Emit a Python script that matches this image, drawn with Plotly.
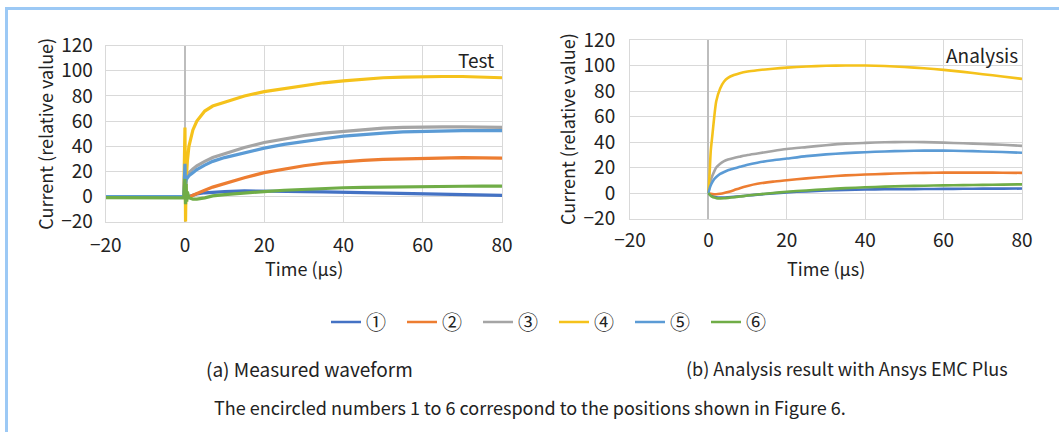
import plotly.graph_objects as go

# ---- measured waveform (Test) ----
t_test = [-20, -10, -0.3, 0, 0.15, 0.3, 0.45, 0.6, 1, 2, 3, 5, 7, 10, 15, 20, 25, 30,
          35, 40, 45, 50, 55, 60, 65, 70, 75, 80]
test_1 = [0, 0, 0, 2, -1, 0, 0, 0, 0, 1, 2, 3, 3.5, 4, 4.5, 4.5, 4.2, 4, 3.7, 3.4, 3,
          2.7, 2.4, 2, 1.7, 1.4, 1.1, 1]
test_2 = [0, 0, 0, 3, -2, 0, 0, 0, -0.5, 1, 2.5, 5, 7.5, 10.5, 15, 19, 22, 24.5, 26.5,
          27.8, 28.8, 29.5, 30, 30.5, 30.8, 31, 30.8, 30.5]
test_3 = [0, 0, 0, 25, 10, 15, 16, 17, 19, 22, 24.5, 28, 31, 34, 39, 43, 46, 48.5, 50.5,
          52, 53.5, 54.5, 55, 55.5, 55.5, 55.5, 55.5, 55]
test_4 = [0, 0, 0, 55, -20, 18, 20, 28, 40, 53, 60, 68, 72, 75, 80, 83.5, 86, 88.5, 90.5,
          92, 93.5, 94.5, 95, 95.5, 95.5, 95.5, 95, 94.5]
test_5 = [0, 0, 0, 26, 8, 13, 14, 15, 16.5, 19, 21.5, 25, 28, 31, 35, 38.5, 41.5, 44, 46,
          48, 49.5, 50.5, 51.5, 52, 52.5, 52.5, 52.5, 52.5]
test_6 = [-0.8, -0.8, -1, 14, -6, 10, -4, 4, -1, -2, -2, -1, 0.5, 1.5, 3, 4, 5, 5.8, 6.5,
          7, 7.3, 7.6, 7.8, 8, 8.1, 8.2, 8.3, 8.3]

# ---- simulation result (Analysis) ----
t_sim = [0, 0.3, 0.6, 1, 1.5, 2, 3, 4, 5, 6.5, 8, 10, 12.5, 16.5, 20, 25, 30, 35, 40,
         45, 50, 55, 60, 65, 70, 75, 80]
sim_1 = [0, -1, -1.8, -2.5, -3, -3.3, -3.5, -3.5, -3.3, -3, -2.6, -2, -1.3, -0.3, 0.5,
         1.3, 2, 2.4, 2.7, 2.9, 3, 3.1, 3.2, 3.3, 3.4, 3.4, 3.5]
sim_2 = [0, -0.3, -0.6, -0.8, -1, -1, -0.6, 0, 0.8, 2.2, 3.8, 5.5, 7.2, 8.9, 10, 11.5,
         12.8, 13.8, 14.5, 15, 15.5, 15.8, 16, 16, 16, 15.9, 15.8]
sim_3 = [0, 6, 10, 13.5, 17, 20, 23, 25, 26.3, 27.5, 28.5, 29.8, 31, 33, 34.5, 36,
         37.5, 38.7, 39.3, 39.8, 40, 39.9, 39.5, 39, 38.4, 37.8, 37]
sim_4 = [0, 15, 33, 45, 60, 72, 82, 87.5, 90.3, 92.5, 94, 95.3, 96.3, 97.5, 98.3, 99.2,
         99.8, 100, 100, 99.6, 98.8, 97.8, 96.6, 95, 93.2, 91.4, 89.5]
sim_5 = [0, 3.5, 6, 8.5, 11, 12.6, 15, 16.5, 17.8, 19.2, 20.5, 22.2, 23.8, 25.7, 27,
         28.9, 30.3, 31.3, 32, 32.6, 33, 33.2, 33.2, 33, 32.6, 32.1, 31.6]
sim_6 = [0, -1.2, -2.2, -3, -3.6, -4, -4.2, -4.1, -3.8, -3.3, -2.8, -2, -1.2, 0, 1,
         2, 3, 3.8, 4.5, 5, 5.4, 5.7, 6, 6.2, 6.4, 6.6, 6.8]

names = ["①", "②", "③", "④", "⑤", "⑥"]
colors = ["#4472C4", "#ED7D31", "#A5A5A5", "#F5C21B", "#5B9BD5", "#70AD47"]
test_series = [test_1, test_2, test_3, test_4, test_5, test_6]
sim_series = [sim_1, sim_2, sim_3, sim_4, sim_5, sim_6]

x_ticks = [-20, 0, 20, 40, 60, 80]
y_ticks = [-20, 0, 20, 40, 60, 80, 100, 120]

FONT = "Noto Sans CJK JP"
TXT = "#222222"
W, H = 1059, 432

fig = go.Figure()
for name, color, ys in zip(names, colors, test_series):
    fig.add_trace(go.Scatter(x=t_test, y=ys, mode="lines", name=name,
                             line=dict(color=color, width=3.2), showlegend=False,
                             xaxis="x", yaxis="y"))
for name, color, ys in zip(names, colors, sim_series):
    fig.add_trace(go.Scatter(x=t_sim, y=ys, mode="lines", name=name,
                             line=dict(color=color, width=2.6, shape="spline", smoothing=0.6),
                             showlegend=True, xaxis="x2", yaxis="y2"))


def px_x(p):
    return p / W


def px_y(p):
    return 1 - p / H


grid = "#D9D9D9"
tickfont = dict(family=FONT, size=19, color=TXT)
common_x = dict(range=[-20, 80], tickvals=x_ticks, showgrid=True, gridcolor=grid,
                gridwidth=1, zeroline=True, zerolinecolor="#BDBDBD", zerolinewidth=1.5,
                showline=True, linecolor=grid, mirror=True, ticks="",
                tickfont=tickfont, fixedrange=True, automargin=False)
common_y = dict(range=[-20, 120], tickvals=y_ticks, showgrid=True, gridcolor=grid,
                gridwidth=1, zeroline=True, zerolinecolor=grid, zerolinewidth=1,
                showline=True, linecolor=grid, mirror=True, ticks="",
                tickfont=tickfont, fixedrange=True, automargin=False)

fig.update_layout(
    width=W, height=H,
    margin=dict(l=0, r=0, t=0, b=0, autoexpand=False),
    paper_bgcolor="white", plot_bgcolor="white",
    font=dict(family=FONT, color=TXT),
    xaxis=dict(common_x, domain=[px_x(105.7), px_x(502)], anchor="y", ticklabelstandoff=6),
    yaxis=dict(common_y, domain=[px_y(221.7), px_y(45.7)], anchor="x", ticklabelstandoff=8),
    xaxis2=dict(common_x, domain=[px_x(630), px_x(1022)], anchor="y2", ticklabelstandoff=5),
    yaxis2=dict(common_y, domain=[px_y(218.5), px_y(40)], anchor="x2", ticklabelstandoff=10),
    legend=dict(orientation="h", x=px_x(326), xanchor="left", y=px_y(322), yanchor="middle",
                font=dict(family=FONT, size=20, color=TXT),
                entrywidth=31, entrywidthmode="pixels", itemclick=False,
                bgcolor="rgba(0,0,0,0)", tracegroupgap=0),
    showlegend=True,
)

ann = []
axis_title_font = dict(family=FONT, size=18, color=TXT)
ann.append(dict(text="Current (relative value)", x=px_x(45), y=px_y(133.7), xref="paper",
                yref="paper", textangle=-90, showarrow=False, font=axis_title_font,
                xanchor="center", yanchor="middle"))
ann.append(dict(text="Current (relative value)", x=px_x(567), y=px_y(129), xref="paper",
                yref="paper", textangle=-90, showarrow=False, font=axis_title_font,
                xanchor="center", yanchor="middle"))
ann.append(dict(text="Time (μs)", x=px_x(304), y=px_y(268), xref="paper", yref="paper",
                showarrow=False, font=axis_title_font, xanchor="center", yanchor="middle"))
ann.append(dict(text="Time (μs)", x=px_x(826), y=px_y(268), xref="paper", yref="paper",
                showarrow=False, font=axis_title_font, xanchor="center", yanchor="middle"))
ann.append(dict(text="Test", x=px_x(496), y=px_y(59), xref="paper", yref="paper",
                showarrow=False, font=dict(family=FONT, size=19, color=TXT),
                xanchor="right", yanchor="middle"))
ann.append(dict(text="Analysis", x=px_x(1020), y=px_y(54), xref="paper", yref="paper",
                showarrow=False, font=dict(family=FONT, size=19, color=TXT),
                xanchor="right", yanchor="middle"))
cap_font = dict(family=FONT, size=18, color=TXT)
ann.append(dict(text="(a) Measured waveform", x=px_x(309), y=px_y(368), xref="paper",
                yref="paper", showarrow=False, font=dict(family=FONT, size=19, color=TXT),
                xanchor="center", yanchor="middle"))
ann.append(dict(text="(b) Analysis result with Ansys EMC Plus", x=px_x(847), y=px_y(368),
                xref="paper", yref="paper", showarrow=False, font=cap_font,
                xanchor="center", yanchor="middle"))
ann.append(dict(text="The encircled numbers 1 to 6 correspond to the positions shown in Figure 6.",
                x=px_x(530), y=px_y(407), xref="paper", yref="paper", showarrow=False,
                font=cap_font, xanchor="center", yanchor="middle"))
fig.update_layout(annotations=ann)

# light blue frame on the top and left edges
frame = "#9CC9F5"
fig.update_layout(shapes=[
    dict(type="line", xref="paper", yref="paper", x0=px_x(5), x1=1, y0=px_y(8.5), y1=px_y(8.5),
         line=dict(color=frame, width=3)),
    dict(type="line", xref="paper", yref="paper", x0=px_x(6.5), x1=px_x(6.5), y0=px_y(7),
         y1=0, line=dict(color=frame, width=3)),
])

fig.write_html("out.html", config=dict(displayModeBar=False))
